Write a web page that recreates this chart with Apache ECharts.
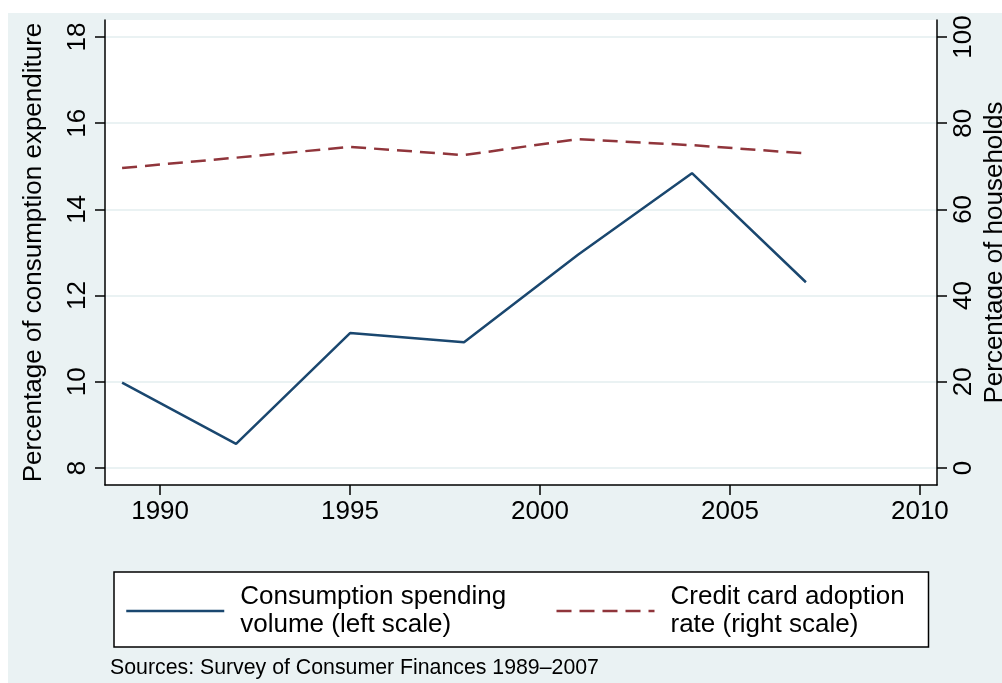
<!DOCTYPE html>
<html>
<head>
<meta charset="utf-8">
<script src="https://cdn.jsdelivr.net/npm/echarts@6/dist/echarts.min.js"></script>
<style>html,body{margin:0;padding:0;background:#fff}#c{width:1002px;height:683px}</style>
</head>
<body>
<div id="c"></div>
<script>
var years = [1989, 1992, 1995, 1998, 2001, 2004, 2007];
var consumption = [9.98, 8.56, 11.13, 10.92, 12.95, 14.84, 12.31];
var creditCard = [69.6, 72.0, 74.5, 72.6, 76.3, 74.9, 73.0];
var xTicks = [1990, 1995, 2000, 2005, 2010];
var leftTicks = [8, 10, 12, 14, 16, 18];
var rightTicks = [0, 20, 40, 60, 80, 100];
var seriesNames = ['Consumption spending\nvolume (left scale)', 'Credit card adoption\nrate (right scale)'];
var leftTitle = 'Percentage of consumption expenditure';
var rightTitle = 'Percentage of households';
var note = 'Sources: Survey of Consumer Finances 1989\u20132007';

var FONT = '"Liberation Sans", Arial, sans-serif';
var chart = echarts.init(document.getElementById('c'), null, {renderer: 'canvas'});
function pairs(xs, ys) { return xs.map(function (x, i) { return [x, ys[i]]; }); }
function plain(v) { return String(v); }

chart.setOption({
  backgroundColor: '#ffffff',
  animation: false,
  textStyle: {fontFamily: FONT, color: '#000'},
  graphic: [
    {type: 'rect', z: -100, shape: {x: 8, y: 13, width: 994, height: 670}, style: {fill: '#eaf2f3'}},
    {type: 'text', left: 110, top: 658, style: {text: note, font: '21.3px ' + FONT, fill: '#000'}}
  ],
  grid: {left: 105, right: 65, top: 20, bottom: 198, show: true, backgroundColor: '#ffffff', borderWidth: 0,
         containLabel: false, outerBoundsMode: 'none'},
  legend: {
    left: 114, top: 572,
    orient: 'horizontal',
    backgroundColor: '#ffffff', borderColor: '#000', borderWidth: 1.5, borderRadius: 0,
    padding: [9, 19, 6, 11],
    itemWidth: 98, itemHeight: 14, itemGap: 16,
    itemStyle: {opacity: 0, color: 'rgba(0,0,0,0)', borderWidth: 0},
    lineStyle: {width: 2.5},
    textStyle: {fontSize: 26, lineHeight: 28, color: '#000', fontFamily: FONT, width: 299, padding: [4, 0, 0, 11]},
    data: [
      {name: seriesNames[0]},
      {name: seriesNames[1], textStyle: {width: 239}}
    ]
  },
  xAxis: {
    type: 'value', min: 1988.55, max: 2010.45,
    axisLine: {show: true, onZero: false, lineStyle: {color: '#000', width: 1.5}},
    axisTick: {show: true, length: 10, customValues: xTicks, lineStyle: {color: '#000', width: 1.5}},
    axisLabel: {customValues: xTicks, formatter: plain, fontSize: 26, color: '#000', margin: 14, fontFamily: FONT},
    splitLine: {show: false}
  },
  yAxis: [
    {
      type: 'value', position: 'left', min: 7.606, max: 18.394,
      name: leftTitle, nameLocation: 'middle', nameRotate: 90, nameGap: 58, nameMoveOverlap: false,
      nameTextStyle: {fontSize: 26, color: '#000', fontFamily: FONT},
      axisLine: {show: true, onZero: false, lineStyle: {color: '#000', width: 1.5}},
      axisTick: {show: true, length: 10, customValues: leftTicks, lineStyle: {color: '#000', width: 1.5}},
      axisLabel: {customValues: leftTicks, formatter: plain, rotate: 90, fontSize: 26, color: '#000', margin: 14, fontFamily: FONT},
      splitLine: {show: true, lineStyle: {color: '#eaf2f3', width: 2}}
    },
    {
      type: 'value', position: 'right', min: -3.94, max: 103.94,
      name: rightTitle, nameLocation: 'middle', nameRotate: 90, nameGap: 45, nameMoveOverlap: false,
      nameTextStyle: {fontSize: 26, color: '#000', fontFamily: FONT},
      axisLine: {show: true, onZero: false, lineStyle: {color: '#000', width: 1.5}},
      axisTick: {show: true, length: 10, customValues: rightTicks, lineStyle: {color: '#000', width: 1.5}},
      axisLabel: {customValues: rightTicks, formatter: plain, rotate: 90, fontSize: 26, color: '#000', margin: 14, fontFamily: FONT},
      splitLine: {show: false}
    }
  ],
  series: [
    {
      name: seriesNames[0], type: 'line', yAxisIndex: 0, data: pairs(years, consumption),
      symbol: 'none', showSymbol: false,
      lineStyle: {color: '#1a476f', width: 2.5}, itemStyle: {color: '#1a476f'}
    },
    {
      name: seriesNames[1], type: 'line', yAxisIndex: 1, data: pairs(years, creditCard),
      symbol: 'none', showSymbol: false,
      lineStyle: {color: '#90353b', width: 2.5, type: [15, 8]}, itemStyle: {color: '#90353b'}
    }
  ]
});
</script>
</body>
</html>
